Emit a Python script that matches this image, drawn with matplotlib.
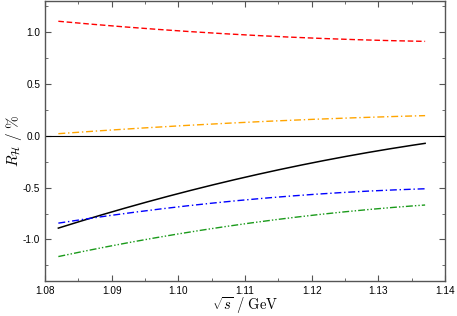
import numpy as np
import matplotlib
matplotlib.use("Agg")
import matplotlib.pyplot as plt
from matplotlib.ticker import MultipleLocator

plt.rcParams['font.family'] = ['Liberation Sans', 'DejaVu Sans']
plt.rcParams['mathtext.fontset'] = 'cm'

# sqrt(s) nodes in GeV
x = [1.082, 1.09, 1.10, 1.11, 1.12, 1.13, 1.137]

red = [1.106, 1.058, 1.01, 0.972, 0.945, 0.922, 0.908]
orange = [0.02, 0.055, 0.096, 0.13, 0.157, 0.18, 0.195]
black = [-0.895, -0.73, -0.555, -0.40, -0.265, -0.15, -0.068]
blue = [-0.846, -0.765, -0.68, -0.62, -0.57, -0.533, -0.507]
green = [-1.17, -1.06, -0.935, -0.85, -0.775, -0.71, -0.66]

xx = np.linspace(x[0], x[-1], 200)


def smooth(vals):
    c = np.polyfit(x, vals, 2)
    return np.polyval(c, xx)


fig = plt.figure(figsize=(4.57, 3.16), dpi=100)
ax = fig.add_axes([0.0985, 0.111, 0.8755, 0.886])

ax.axhline(0, color='black', lw=0.8)
ax.plot(xx, smooth(red), color='red', lw=1.0, ls=(0, (4, 2)))
ax.plot(xx, smooth(orange), color='orange', lw=1.0, ls=(0, (5, 2, 1, 2)))
ax.plot(xx, smooth(black), color='black', lw=1.1)
ax.plot(xx, smooth(blue), color='blue', lw=1.0, ls=(0, (5, 2, 1, 2)))
ax.plot(xx, smooth(green), color='#1a9a1a', lw=1.0, ls=(0, (5, 1.5, 1, 1.5, 1, 1.5)))

ax.set_xlim(1.08, 1.14)
ax.set_ylim(-1.4, 1.3)
ax.xaxis.set_major_locator(MultipleLocator(0.01))
ax.xaxis.set_minor_locator(MultipleLocator(0.005))
ax.yaxis.set_major_locator(MultipleLocator(0.5))
ax.yaxis.set_minor_locator(MultipleLocator(0.25))
ax.set_xticklabels([f'{v:.2f}' for v in ax.get_xticks()])
ax.set_yticklabels([f'{v:.1f}' for v in ax.get_yticks()])
ax.tick_params(which='both', direction='in', top=True, right=True, labelsize=7.2, color='#555555')
ax.tick_params(which='major', length=4, pad=3.5)
ax.tick_params(which='minor', length=2)
for s in ax.spines.values():
    s.set_color('#555555')
    s.set_linewidth(1.0)

ax.set_xlabel(r'$\sqrt{s}\ /\ \mathrm{GeV}$', fontsize=10.5)
ax.set_ylabel(r'$R_{\mathcal{H}}\ /\ \%$', fontsize=11)
ax.xaxis.set_label_coords(0.5, -0.052)
ax.yaxis.set_label_coords(-0.052, 0.5)

fig.savefig('out.png', dpi=100)
